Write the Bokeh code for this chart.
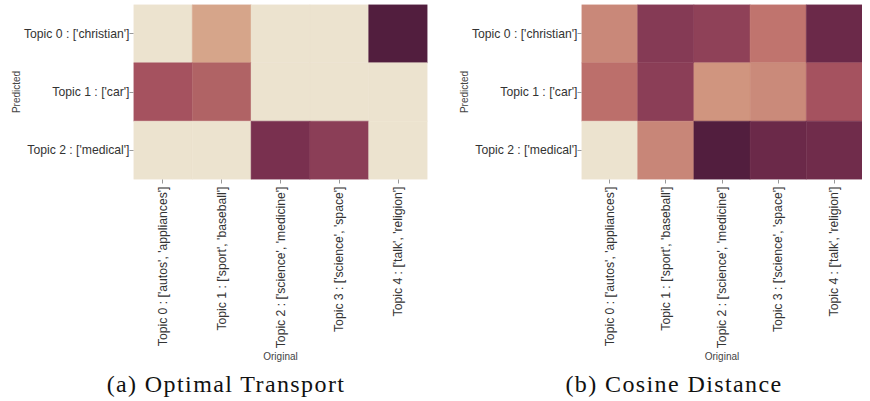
import math
import numpy as np
from bokeh.plotting import figure
from bokeh.models import ColumnDataSource, LinearColorMapper, Div
from bokeh.layouts import row, column
from bokeh.transform import transform
from bokeh.embed import file_html
from bokeh.resources import INLINE

# ---------------- data ----------------
predicted = ["Topic 0 : ['christian']", "Topic 1 : ['car']", "Topic 2 : ['medical']"]
original = [
    "Topic 0 : ['autos', 'appliances']",
    "Topic 1 : ['sport', 'baseball']",
    "Topic 2 : ['science', 'medicine']",
    "Topic 3 : ['science', 'space']",
    "Topic 4 : ['talk', 'religion']",
]

# Optimal transport (rows = predicted topics, cols = original topics)
ot_topic0 = [0.00, 0.15, 0.00, 0.00, 1.00]
ot_topic1 = [0.55, 0.47, 0.00, 0.00, 0.00]
ot_topic2 = [0.00, 0.00, 0.80, 0.68, 0.00]

# Cosine distance
cos_topic0 = [0.32, 0.72, 0.66, 0.40, 0.88]
cos_topic1 = [0.42, 0.68, 0.25, 0.31, 0.55]
cos_topic2 = [0.00, 0.33, 1.00, 0.88, 0.85]

captions = ["(a) Optimal Transport", "(b) Cosine Distance"]

# ---------------- colormap ----------------
anchor_pos = [0.00, 0.15, 0.25, 0.32, 0.40, 0.47, 0.55, 0.68, 0.72, 0.80, 0.88, 1.00]
anchor_rgb = [
    (236, 227, 207), (214, 165, 138), (208, 149, 127), (201, 136, 121),
    (192, 116, 110), (176, 99, 101), (165, 82, 95), (139, 62, 87),
    (133, 58, 85), (121, 48, 79), (107, 41, 73), (82, 30, 62),
]
ts = np.linspace(0, 1, 256)
arr = np.array(anchor_rgb, dtype=float)
palette = []
for t in ts:
    r = np.interp(t, anchor_pos, arr[:, 0])
    g = np.interp(t, anchor_pos, arr[:, 1])
    b = np.interp(t, anchor_pos, arr[:, 2])
    palette.append("#%02x%02x%02x" % (int(round(r)), int(round(g)), int(round(b))))

mapper = LinearColorMapper(palette=palette, low=0.0, high=1.0)

FONT = "Liberation Sans"


def make_heat(rows, width, border_left, border_right):
    xs, ys, vs = [], [], []
    for pi, vals in zip(predicted, rows):
        for oi, v in zip(original, vals):
            xs.append(oi)
            ys.append(pi)
            vs.append(v)
    src = ColumnDataSource(dict(x=xs, y=ys, v=vs))
    p = figure(
        x_range=original,
        y_range=list(reversed(predicted)),
        width=width,
        height=365,
        min_border_left=border_left,
        min_border_right=border_right,
        min_border_top=4,
        min_border_bottom=0,
        output_backend="svg",
        toolbar_location=None,
        background_fill_color="white",
        border_fill_color="white",
    )
    p.rect(x="x", y="y", width=1, height=1, source=src,
           fill_color=transform("v", mapper),
           line_color=transform("v", mapper), line_width=0.5)
    p.outline_line_color = None
    p.grid.visible = False
    for ax in (p.xaxis[0], p.yaxis[0]):
        ax.axis_line_color = None
        ax.major_tick_in = 0
        ax.major_tick_out = 4
        ax.major_tick_line_color = "#999999"
        ax.minor_tick_line_color = None
        ax.major_label_text_font = FONT
        ax.major_label_text_font_size = "12.2px"
        ax.major_label_text_color = "#333333"
        ax.axis_label_text_font = FONT
        ax.axis_label_text_font_size = "10px"
        ax.axis_label_text_font_style = "normal"
        ax.axis_label_text_color = "#444444"
    p.xaxis.axis_label = "Original"
    p.yaxis.axis_label = "Predicted"
    p.xaxis.major_label_orientation = math.pi / 2
    p.xaxis.major_label_standoff = 3
    p.yaxis.major_label_standoff = 0
    p.xaxis.axis_label_standoff = 0
    p.yaxis.axis_label_standoff = -1
    return p


p1 = make_heat([ot_topic0, ot_topic1, ot_topic2], 440, 133, 13)
p2 = make_heat([cos_topic0, cos_topic1, cos_topic2], 422, 141, 0)


def caption_div(text, width, ml, inner_w):
    html = ('<div style="margin-left:%dpx;width:%dpx;padding-top:11px;text-align:center;'
            'font-family:\'Liberation Serif\',serif;font-size:24px;letter-spacing:1.4px;'
            'line-height:16px;color:#111111;white-space:nowrap;">%s</div>'
            % (ml, inner_w, text))
    return Div(text=html, width=width, height=28, margin=0)


d1 = caption_div(captions[0], 440, 16, 420)
d2 = caption_div(captions[1], 422, 64, 340)

layout = column(row(p1, p2, spacing=0), row(d1, d2, spacing=0), spacing=0)

open("out.html", "w").write(file_html(layout, INLINE))
